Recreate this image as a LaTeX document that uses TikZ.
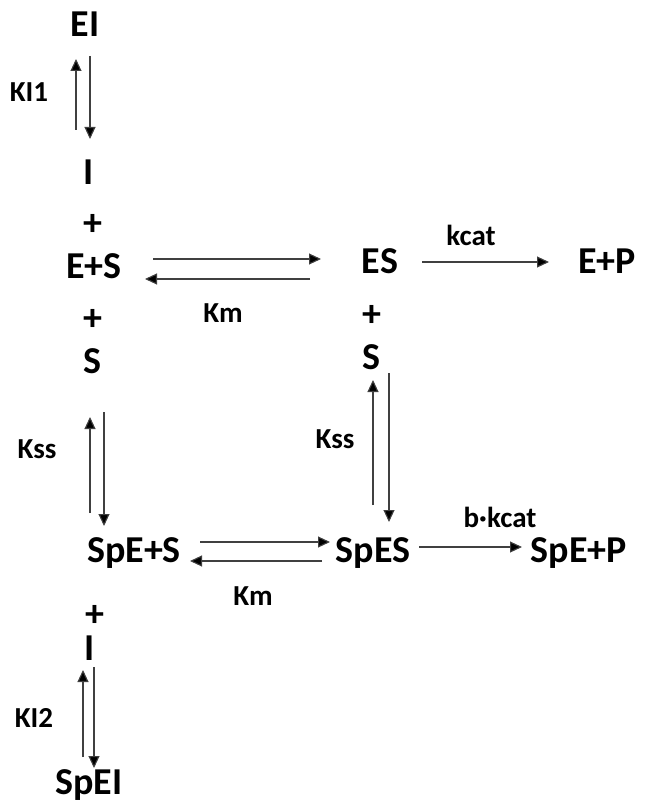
\documentclass[tikz,border=0pt]{standalone}
\usepackage{fontspec}
\setmainfont{Carlito}
\usetikzlibrary{arrows.meta}
\begin{document}
\begin{tikzpicture}[x=1pt,y=-1pt,
  sp/.style={font=\fontsize{38}{40}\selectfont\bfseries, anchor=base, inner sep=0pt},
  lab/.style={font=\fontsize{29}{31}\selectfont\bfseries, anchor=base, inner sep=0pt},
  rx/.style={draw=black!75, line width=1.1pt, -{Triangle[length=12pt,width=11pt,fill=black]}}]
\useasboundingbox (0,0) rectangle (670,805);
% species
\node[sp] (EI) at (85,37) {EI};
\node[lab] (KI1) at (29,102) {KI1};
\node[sp] (I1) at (89,185) {I};
\node[sp] (p1) at (93,235) {+};
\node[sp] (ES0) at (94,278) {E+S};
\node[sp] (p2) at (93,330) {+};
\node[sp] (S1) at (92,373) {S};
\node[lab] (Kss1) at (37,458) {Kss};
\node[sp] (SpES0) at (134,562) {SpE+S};
\node[sp] (p3) at (95,626) {+};
\node[sp] (I2) at (90,660) {I};
\node[lab] (KI2) at (34,727) {KI2};
\node[sp] (SpEI) at (89,794) {SpEI};
\node[sp] (ES) at (380,273) {ES};
\node[lab] (kcat) at (471,245) {kcat};
\node[sp] (EP) at (607,273) {E+P};
\node[lab] (Km1) at (223,322) {Km};
\node[sp] (p4) at (372,326) {+};
\node[sp] (S2) at (371,369) {S};
\node[lab] (Kss2) at (335,448) {Kss};
\node[sp] (SpES) at (373,562) {SpES};
\node[lab] (Km2) at (253,605) {Km};
\node[lab] (bkcat) at (500,527) {b·kcat};
\node[sp] (SpEP) at (579,562) {SpE+P};
% arrow end points
\coordinate (k1a) at (76,130); \coordinate (k1b) at (76,59);
\coordinate (k1c) at (90,56);  \coordinate (k1d) at (90,139);
\coordinate (m1a) at (153,259); \coordinate (m1b) at (321,259);
\coordinate (m1c) at (310,279); \coordinate (m1d) at (145,279);
\coordinate (c1a) at (422,262); \coordinate (c1b) at (549,262);
\coordinate (s2a) at (373,505); \coordinate (s2b) at (373,380);
\coordinate (s2c) at (389,373); \coordinate (s2d) at (389,522);
\coordinate (s1a) at (90,513);  \coordinate (s1b) at (90,417);
\coordinate (s1c) at (104,412); \coordinate (s1d) at (104,526);
\coordinate (m2a) at (200,542); \coordinate (m2b) at (330,542);
\coordinate (m2c) at (322,561); \coordinate (m2d) at (190,561);
\coordinate (c2a) at (419,547); \coordinate (c2b) at (522,547);
\coordinate (k2a) at (83,757);  \coordinate (k2b) at (83,670);
\coordinate (k2c) at (94,667);  \coordinate (k2d) at (94,768);
% arrows
\draw[rx] (k1a) -- (k1b);
\draw[rx] (k1c) -- (k1d);
\draw[rx] (m1a) -- (m1b);
\draw[rx] (m1c) -- (m1d);
\draw[rx] (c1a) -- (c1b);
\draw[rx] (s2a) -- (s2b);
\draw[rx] (s2c) -- (s2d);
\draw[rx] (s1a) -- (s1b);
\draw[rx] (s1c) -- (s1d);
\draw[rx] (m2a) -- (m2b);
\draw[rx] (m2c) -- (m2d);
\draw[rx] (c2a) -- (c2b);
\draw[rx] (k2a) -- (k2b);
\draw[rx] (k2c) -- (k2d);
\end{tikzpicture}
\end{document}
